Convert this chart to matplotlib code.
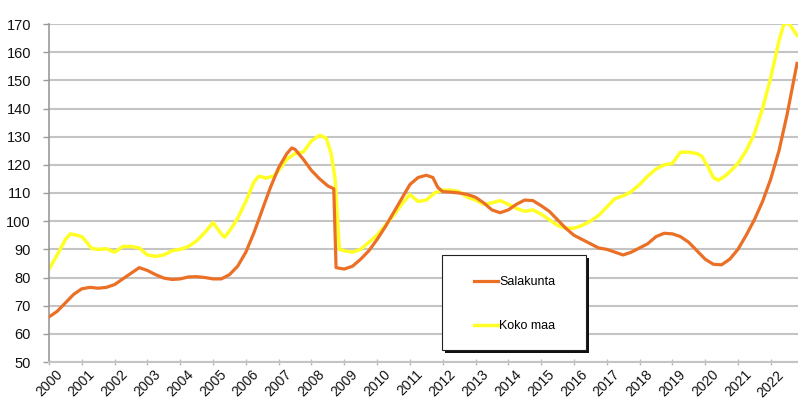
import matplotlib
matplotlib.use("Agg")
import matplotlib.pyplot as plt
from matplotlib.patches import Rectangle

plt.rcParams['font.family'] = ['Liberation Sans', 'DejaVu Sans']

sat_t = [2000.0, 2000.25, 2000.5, 2000.75, 2001.0, 2001.25, 2001.5, 2001.75, 2002.0, 2002.25,
         2002.5, 2002.75, 2003.0, 2003.25, 2003.5, 2003.75, 2004.0, 2004.25, 2004.5, 2004.75,
         2005.0, 2005.25, 2005.5, 2005.75, 2006.0, 2006.25, 2006.5, 2006.75, 2007.0, 2007.25,
         2007.4, 2007.5, 2007.75, 2008.0, 2008.25, 2008.5, 2008.68, 2008.75, 2009.0, 2009.25,
         2009.5, 2009.75, 2010.0, 2010.25, 2010.5, 2010.75, 2011.0, 2011.25, 2011.5, 2011.7,
         2011.85, 2012.0, 2012.25, 2012.5, 2012.75, 2013.0, 2013.25, 2013.5, 2013.75, 2014.0,
         2014.25, 2014.5, 2014.75, 2015.0, 2015.25, 2015.5, 2015.75, 2016.0, 2016.25, 2016.5,
         2016.75, 2017.0, 2017.25, 2017.5, 2017.75, 2018.0, 2018.25, 2018.5, 2018.75, 2019.0,
         2019.25, 2019.5, 2019.75, 2020.0, 2020.25, 2020.5, 2020.75, 2021.0, 2021.25, 2021.5,
         2021.75, 2022.0, 2022.25, 2022.5, 2022.8]
sat_v = [66, 68, 71, 74, 76, 76.5, 76.2, 76.5, 77.5, 79.5,
         81.5, 83.5, 82.5, 81, 79.8, 79.3, 79.5, 80.2, 80.3, 80,
         79.5, 79.5, 81, 84, 89, 96, 104, 112, 119, 124,
         126, 125.5, 122, 118, 115, 112.5, 111.5, 83.5, 83, 84,
         86.5, 89.5, 93.5, 98, 103, 108, 113, 115.5, 116.3, 115.5,
         112, 110.5, 110.3, 110, 109.5, 108.5, 106.5, 104, 103, 104,
         106, 107.5, 107.3, 105.5, 103.5, 100.5, 97.5, 95, 93.5, 92,
         90.5, 90, 89, 88, 89, 90.5, 92, 94.5, 95.7, 95.5,
         94.5, 92.5, 89.5, 86.5, 84.7, 84.5, 86.5, 90, 95, 100.5,
         107, 115, 125, 138, 156]

koko_t = [2000.0, 2000.25, 2000.5, 2000.65, 2000.85, 2001.0, 2001.15, 2001.3, 2001.5, 2001.75,
          2002.0, 2002.25, 2002.5, 2002.75, 2003.0, 2003.25, 2003.5, 2003.75, 2004.0, 2004.25,
          2004.5, 2004.75, 2005.0, 2005.25, 2005.35, 2005.5, 2005.75, 2006.0, 2006.25, 2006.4,
          2006.6, 2006.85, 2007.0, 2007.25, 2007.5, 2007.75, 2008.0, 2008.25, 2008.45, 2008.6,
          2008.72, 2008.85, 2009.0, 2009.25, 2009.5, 2009.75, 2010.0, 2010.25, 2010.5, 2010.75,
          2011.0, 2011.25, 2011.5, 2011.75, 2012.0, 2012.25, 2012.5, 2012.75, 2013.0, 2013.25,
          2013.5, 2013.75, 2014.0, 2014.25, 2014.5, 2014.75, 2015.0, 2015.25, 2015.5, 2015.75,
          2016.0, 2016.25, 2016.5, 2016.75, 2017.0, 2017.25, 2017.5, 2017.75, 2018.0, 2018.25,
          2018.5, 2018.75, 2019.0, 2019.25, 2019.5, 2019.75, 2019.9, 2020.1, 2020.25, 2020.4,
          2020.6, 2020.75, 2021.0, 2021.25, 2021.5, 2021.75, 2022.0, 2022.25, 2022.4, 2022.55,
          2022.8]
koko_v = [83, 88, 93.5, 95.5, 95, 94.5, 92.5, 90.3, 90, 90.2,
          89, 91, 91, 90.5, 88, 87.5, 88, 89.5, 90, 91,
          93, 96, 99.5, 95.5, 94.3, 96.5, 101, 107, 114, 116,
          115.3, 116, 118, 122, 124, 124.5, 128.5, 130.5, 129.5, 124,
          115, 90, 89.5, 89, 90, 92.5, 95, 98.5, 102, 106,
          109.5, 107, 107.5, 110, 111, 111, 110.5, 108.5, 107.5, 106,
          106.5, 107.3, 106, 104.5, 103.5, 104, 102.5, 100.5, 98.5, 97.5,
          97.5, 98.5, 100, 102, 105, 108, 109, 110.5, 113, 116,
          118.5, 120, 120.5, 124.5, 124.5, 124, 123, 119, 115.5, 114.5,
          116, 117.5, 120.5, 125, 131, 140, 151, 164, 170, 170.3,
          166]

years = list(range(2000, 2023))
y_ticks = list(range(50, 171, 10))
series_names = ["Salakunta", "Koko maa"]

W, H = 798, 401
fig = plt.figure(figsize=(W / 100, H / 100), dpi=100)
ax = fig.add_axes([49 / W, 1 - 362 / H, (W - 49) / W, (362 - 24) / H])

ax.plot(sat_t, sat_v, color="#EB6F25", lw=2.3, label=series_names[0], zorder=3,
        solid_joinstyle='round')
ax.plot(koko_t, koko_v, color="#FFFF26", lw=2.5, label=series_names[1], zorder=2,
        solid_joinstyle='round')

ax.set_xlim(2000, 2022.83)
ax.set_ylim(50, 170)
ax.set_yticks(y_ticks)
ax.set_xticks(years)
ax.set_xticklabels([str(y) for y in years], rotation=45, ha='center', fontsize=10)
ax.tick_params(axis='y', labelsize=10.5, length=4, width=1, color='#999999', pad=9,
               labelcolor='#111111')
ax.tick_params(axis='x', length=4, width=1, color='#bbbbbb', direction='inout', pad=2,
               labelcolor='#111111')
ax.yaxis.grid(True, color='#c4c4c4', lw=1.5)
ax.set_axisbelow(True)
for s in ['top', 'right']:
    ax.spines[s].set_visible(False)
ax.spines['left'].set_color('#999999')
ax.spines['left'].set_linewidth(1.2)
ax.spines['bottom'].set_color('#c4c4c4')
ax.spines['bottom'].set_linewidth(1.5)

# legend box with shadow (drawn inside the axes so the legend sits on top)
shadow = Rectangle((445 / W, 1 - 353 / H), 144 / W, 95 / H, transform=fig.transFigure,
                   facecolor='#111111', edgecolor='none', zorder=9, clip_on=False)
box = Rectangle((442 / W, 1 - 350 / H), 144 / W, 95 / H, transform=fig.transFigure,
                facecolor='white', edgecolor='#222222', lw=0.8, zorder=10, clip_on=False)
ax.add_artist(shadow)
ax.add_artist(box)
leg = ax.legend(loc='center left', bbox_to_anchor=(474 / W, 1 - 304 / H),
                bbox_transform=fig.transFigure, frameon=False, fontsize=9,
                handlelength=1.9, handletextpad=0.1, labelspacing=2.55,
                borderpad=0, borderaxespad=0)
leg.set_zorder(11)

fig.savefig("out.png", dpi=100)
